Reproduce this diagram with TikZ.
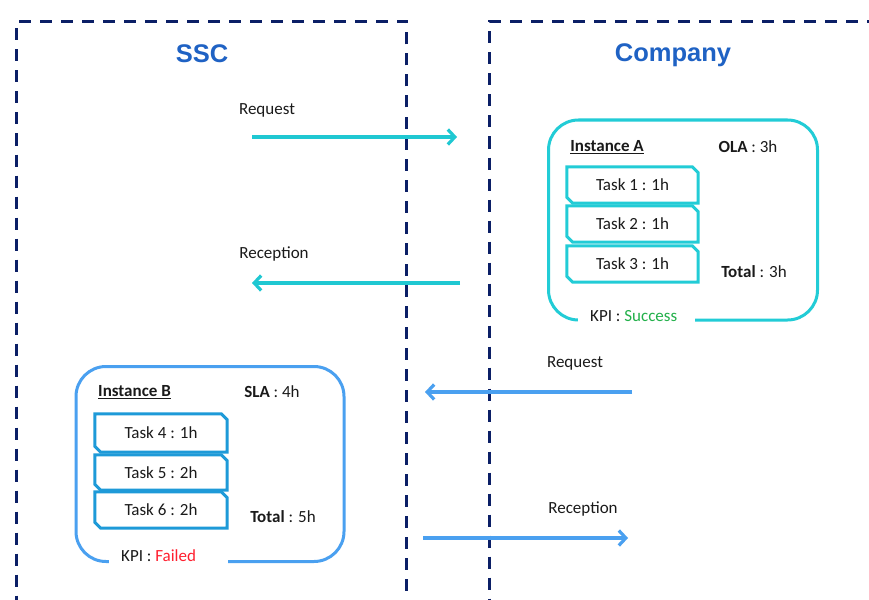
\documentclass[tikz,border=0pt]{standalone}
\usepackage{fontspec}
\setmainfont{Carlito}
\newfontfamily\titlefont{Liberation Sans}
\usetikzlibrary{arrows.meta}
\definecolor{navy}{HTML}{0B1F66}
\definecolor{ttl}{HTML}{1F62C4}
\definecolor{cya}{HTML}{22CCD6}
\definecolor{cyb}{HTML}{1FC8D2}
\definecolor{blu}{HTML}{4AA0F0}
\definecolor{blt}{HTML}{1E9AD8}
\definecolor{txt}{HTML}{1A1A1A}
\definecolor{okg}{HTML}{22B04A}
\definecolor{bad}{HTML}{FF1E2E}
\tikzset{
  lane/.style={draw=navy, line width=3pt, dash pattern=on 12pt off 9pt, inner sep=0pt},
  title/.style={font=\titlefont\bfseries\fontsize{25.5}{29}\selectfont, text=ttl},
  lbl/.style={font=\fontsize{17}{20}\selectfont, text=txt, inner sep=0pt},
  inst/.style={draw, line width=3pt, rounded corners=30pt, inner sep=0pt},
  kpi/.style={lbl, fill=white, inner xsep=12pt, inner ysep=3pt},
  taskbox/.style={lbl, minimum width=131pt, inner sep=0pt},
  conn/.style={line width=3.2pt, -{Straight Barb[length=7pt,width=15pt,line width=3.2pt]}},
}
\begin{document}
\begin{tikzpicture}[x=1pt,y=-1pt]
\useasboundingbox (0,0) rectangle (869,599);
\fill[white] (0,0) rectangle (869,599);
% lanes
\node[lane, minimum width=390pt, minimum height=620pt, anchor=north west] (ssc) at (15,20) {};
\node[lane, minimum width=420pt, minimum height=620pt, anchor=north west] (comp) at (488,20) {};
\node[title] (ssct) at (202,54) {SSC};
\node[title] (compt) at (673,55) {Company};
% arrows top (cyan)
\coordinate (a1s) at (252,137); \coordinate (a1e) at (457,137);
\draw[conn, cyb] (a1s) -- (a1e);
\node[lbl] (a1l) at (267,110) {Request};
\coordinate (a2s) at (460,283); \coordinate (a2e) at (252,283);
\draw[conn, cyb] (a2s) -- (a2e);
\node[lbl] (a2l) at (274,254) {Reception};
% arrows bottom (blue)
\coordinate (b1s) at (632,392); \coordinate (b1e) at (425,392);
\draw[conn, blu] (b1s) -- (b1e);
\node[lbl] (b1l) at (575,363) {Request};
\coordinate (b2s) at (423,538); \coordinate (b2e) at (628,538);
\draw[conn, blu] (b2s) -- (b2e);
\node[lbl] (b2l) at (583,509) {Reception};
% Instance A
\node[inst, draw=cya, minimum width=269pt, minimum height=200pt, anchor=north west] (ia) at (547,118.5) {};
\node[kpi, anchor=west] (kpia) at (578,316) {KPI : \textcolor{okg}{Success}\hspace*{6pt}};
\node[lbl, font=\fontsize{17}{20}\selectfont\bfseries] (iat) at (607,147) {\underline{Instance A}};
\node[lbl] (ola) at (748,147) {\textbf{OLA} : 3h};
\node[lbl] (tota) at (754,272) {\textbf{Total} : 3h};
\node[taskbox, minimum height=36pt] (t1) at (632.5,185) {Task 1 : 1h};
\node[taskbox, minimum height=36pt] (t2) at (632.5,224) {Task 2 : 1h};
\node[taskbox, minimum height=36pt] (t3) at (632.5,264) {Task 3 : 1h};
\foreach \n in {t1,t2,t3}
  \draw[cya, line width=3pt, line join=miter]
    ([xshift=-6pt]\n.north east) -- ([yshift=-6pt]\n.north east) -- (\n.south east)
    -- ([xshift=6pt]\n.south west) -- ([yshift=6pt]\n.south west) -- (\n.north west) -- cycle;
% Instance B
\node[inst, draw=blu, minimum width=268pt, minimum height=195pt, anchor=north west] (ib) at (74.5,365) {};
\node[kpi, anchor=west] (kpib) at (109,556) {KPI : \textcolor{bad}{Failed}\hspace*{20pt}};
\node[lbl, font=\fontsize{17}{20}\selectfont\bfseries] (ibt) at (134.5,392) {\underline{Instance B}};
\node[lbl] (sla) at (272,392) {\textbf{SLA} : 4h};
\node[lbl] (totb) at (283,517) {\textbf{Total} : 5h};
\node[taskbox, minimum width=132pt, minimum height=38pt] (t4) at (161,433) {Task 4 : 1h};
\node[taskbox, minimum width=132pt, minimum height=35pt] (t5) at (161,472.5) {Task 5 : 2h};
\node[taskbox, minimum width=132pt, minimum height=36pt] (t6) at (161,510) {Task 6 : 2h};
\foreach \n in {t4,t5,t6}
  \draw[blt, line width=3pt, line join=miter]
    ([xshift=-6pt]\n.north east) -- ([yshift=-6pt]\n.north east) -- (\n.south east)
    -- ([xshift=6pt]\n.south west) -- ([yshift=6pt]\n.south west) -- (\n.north west) -- cycle;
\end{tikzpicture}
\end{document}
